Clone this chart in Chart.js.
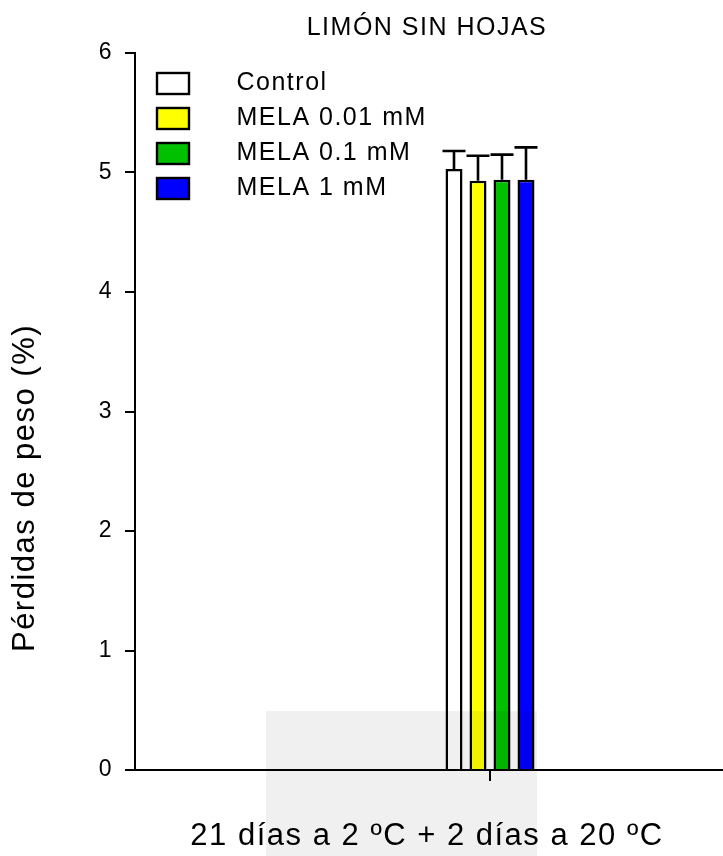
<!DOCTYPE html>
<html>
<head>
<meta charset="utf-8">
<title>Limón sin hojas</title>
<script src="https://cdn.jsdelivr.net/npm/chart.js@4.4.1/dist/chart.umd.min.js"></script>
<style>
    html, body { margin: 0; padding: 0; background: #fff; overflow: hidden; }
    #wrap { width: 850px; height: 856px; }
</style>
</head>
<body>
<div id="wrap"><canvas id="myChart" width="850" height="856"></canvas></div>
<script>
const chartTitle = 'LIMÓN SIN HOJAS';
const categories = ['21 días a 2 ºC + 2 días a 20 ºC'];
const yTitle = 'Pérdidas de peso (%)';
const treatments = ['Control', 'MELA 0.01 mM', 'MELA 0.1 mM', 'MELA 1 mM'];
const weightLoss = [5.03, 4.93, 4.94, 4.94];
const weightLossErr = [0.15, 0.21, 0.21, 0.27];
const yTicks = [0, 1, 2, 3, 4, 5, 6];
const barColors = ['#ffffff', '#ffff00', '#00c000', '#0000ff'];

const FONT = 'Arial, "Liberation Sans", sans-serif';
Chart.defaults.font.family = FONT;
Chart.defaults.color = '#000';

// legend swatch: box sits on the left of a wider image so the text lands further right
function swatch(color) {
    const c = document.createElement('canvas');
    c.width = 79;
    c.height = 25;
    const g = c.getContext('2d');
    g.fillStyle = color;
    g.fillRect(12, 2, 32, 21);
    g.strokeStyle = '#000';
    g.lineWidth = 2.4;
    g.strokeRect(12, 2, 32, 21);
    return c;
}
const swatches = barColors.map(swatch);

const datasets = [];
for (let i = 0; i < treatments.length; i++) {
    datasets.push({
        label: treatments[i],
        data: [weightLoss[i]],
        errors: [weightLossErr[i]],
        backgroundColor: barColors[i],
        borderColor: '#000',
        borderWidth: 2.5,
        categoryPercentage: 96 / 710,
        barPercentage: 17 / 24
    });
}

const spacing = {
    id: 'spacing',
    beforeUpdate(chart) { chart.ctx.letterSpacing = '1.5px'; },
    beforeDraw(chart) { chart.ctx.letterSpacing = '1.5px'; }
};

const errorBars = {
    id: 'errorBars',
    afterDatasetsDraw(chart) {
        const ctx = chart.ctx;
        const y = chart.scales.y;
        ctx.save();
        ctx.strokeStyle = '#000';
        ctx.lineWidth = 2.6;
        chart.data.datasets.forEach((ds, i) => {
            chart.getDatasetMeta(i).data.forEach((bar, j) => {
                const top = y.getPixelForValue(ds.data[j] + ds.errors[j]);
                ctx.beginPath();
                ctx.moveTo(bar.x, bar.y);
                ctx.lineTo(bar.x, top);
                ctx.moveTo(bar.x - 11.5, top);
                ctx.lineTo(bar.x + 11.5, top);
                ctx.stroke();
            });
        });
        ctx.restore();
    }
};

const sideLabel = {
    id: 'sideLabel',
    afterDraw(chart) {
        const ctx = chart.ctx;
        ctx.save();
        ctx.translate(25, 488);
        ctx.rotate(-Math.PI / 2);
        ctx.font = '31px ' + FONT;
        ctx.fillStyle = '#000';
        ctx.textAlign = 'center';
        ctx.textBaseline = 'middle';
        ctx.fillText(yTitle, 0, 0);
        ctx.restore();
        // faint watermark panel behind the bottom of the bars
        ctx.save();
        ctx.fillStyle = 'rgba(0,0,0,0.06)';
        ctx.fillRect(266, 711, 271, 145);
        ctx.restore();
    }
};

new Chart(document.getElementById('myChart'), {
    type: 'bar',
    data: { labels: categories, datasets: datasets },
    options: {
        responsive: false,
        animation: false,
        devicePixelRatio: 1,
        layout: { padding: { left: 9, right: 5, top: 0, bottom: 0 } },
        scales: {
            x: {
                offset: true,
                grid: { display: true, offset: false, drawOnChartArea: false, drawTicks: true, tickLength: 11, color: '#000', lineWidth: 2 },
                border: { display: true, color: '#000', width: 2 },
                ticks: { callback: () => '' },
                afterFit(scale) { scale.height = 47.8; }
            },
            y: {
                min: 0,
                max: 6,
                afterBuildTicks(scale) { scale.ticks = yTicks.map(v => ({ value: v })); },
                grid: { display: true, drawOnChartArea: false, drawTicks: true, tickLength: 10, color: '#000', lineWidth: 2 },
                border: { display: true, color: '#000', width: 2 },
                ticks: { font: { size: 23 }, color: '#000', padding: 12 },
                afterFit(scale) { scale.width = 126; }
            }
        },
        plugins: {
            title: {
                display: true,
                text: chartTitle,
                font: { size: 25, weight: 'normal', lineHeight: 1.2 },
                color: '#000',
                padding: { top: 13, bottom: 10 }
            },
            subtitle: {
                display: true,
                position: 'bottom',
                text: categories[0],
                font: { size: 31, weight: 'normal', lineHeight: 1.2 },
                color: '#000',
                padding: { top: 0, bottom: 1 }
            },
            legend: {
                position: 'chartArea',
                align: 'start',
                // empty title only pushes the rows down into the plot
                title: { display: true, text: '', font: { size: 61, lineHeight: 1 }, padding: 0 },
                labels: {
                    usePointStyle: true,
                    pointStyleWidth: 79,
                    padding: 10,
                    font: { size: 25 },
                    color: '#000',
                    generateLabels(chart) {
                        return Chart.defaults.plugins.legend.labels.generateLabels(chart).map((item, i) => {
                            item.pointStyle = swatches[i];
                            return item;
                        });
                    }
                }
            },
            tooltip: { enabled: false }
        }
    },
    plugins: [spacing, errorBars, sideLabel]
});
</script>
</body>
</html>
